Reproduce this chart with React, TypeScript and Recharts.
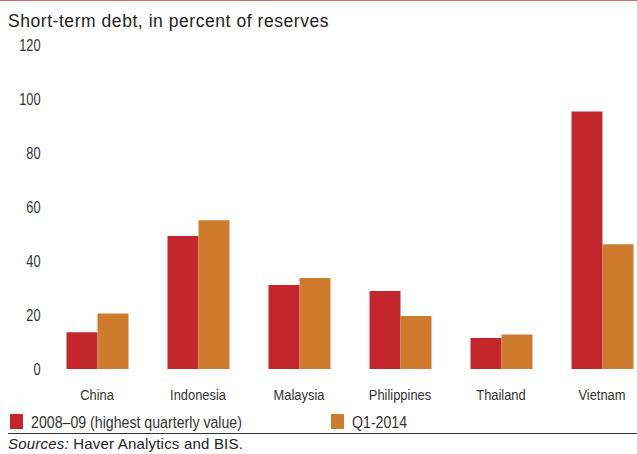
import { BarChart, Bar, XAxis, YAxis } from "recharts";

const categories = ["China", "Indonesia", "Malaysia", "Philippines", "Thailand", "Vietnam"];
const peak2008 = [13.6, 49.3, 31.1, 28.9, 11.5, 95.4];
const q12014 = [20.6, 55.1, 33.7, 19.6, 12.8, 46.2];
const yTicks = [0, 20, 40, 60, 80, 100, 120];

const seriesNames = ["2008–09 (highest quarterly value)", "Q1-2014"];
const RED = "#C4262E";
const ORANGE = "#CE7B2D";

const data = categories.map((c, i) => ({
  name: c,
  peak: peak2008[i],
  q1: q12014[i],
}));

const sans = "'Liberation Sans', Arial, sans-serif";

// condensed look: plain sans squeezed horizontally
const CondTick = (props: any) => {
  const { x, y, payload, anchor, size, sx, dy } = props;
  return (
    <g transform={`translate(${x},${y})`}>
      <text
        transform={`scale(${sx},1)`}
        textAnchor={anchor}
        dy={dy}
        fontFamily={sans}
        fontSize={size}
        fill="#333"
      >
        {payload.value}
      </text>
    </g>
  );
};

const condText = (left: number, text: string) => (
  <div
    style={{
      position: "absolute",
      left,
      top: 413.5,
      fontFamily: sans,
      fontSize: 16,
      lineHeight: "18px",
      color: "#333",
      whiteSpace: "nowrap",
      transform: "scaleX(0.885)",
      transformOrigin: "0 0",
    }}
  >
    {text}
  </div>
);

export default function App() {
  return (
    <div
      style={{
        position: "absolute",
        left: 0,
        top: 0,
        width: 637,
        height: 454,
        overflow: "hidden",
        background: "#fff",
        fontFamily: sans,
        color: "#222",
      }}
    >
      {/* top rule */}
      <div style={{ position: "absolute", left: 0, top: 0, width: 637, height: 1, background: "#E06666" }} />

      <div
        style={{
          position: "absolute",
          left: 8,
          top: 12,
          fontSize: 17.5,
          lineHeight: "18px",
          letterSpacing: 0.55,
          whiteSpace: "nowrap",
        }}
      >
        Short-term debt, in percent of reserves
      </div>

      <div style={{ position: "absolute", left: 0, top: 0 }}>
        <BarChart
          width={660}
          height={405}
          data={data}
          margin={{ top: 45, right: 7.5, left: 0, bottom: 0 }}
          barCategoryGap={20}
          barGap={0}
        >
          <XAxis
            dataKey="name"
            axisLine={false}
            tickLine={false}
            height={36}
            tickMargin={14}
            interval={0}
            tick={<CondTick anchor="middle" size={15} sx={0.86} dy="0.71em" />}
          />
          <YAxis
            domain={[0, 120]}
            ticks={yTicks}
            axisLine={false}
            tickLine={false}
            width={46.5}
            tickMargin={0}
            tick={<CondTick anchor="end" size={16} sx={0.8} dy="0.355em" />}
          />
          <Bar dataKey="peak" fill={RED} isAnimationActive={false} />
          <Bar dataKey="q1" fill={ORANGE} isAnimationActive={false} />
        </BarChart>
      </div>

      {/* legend */}
      <div style={{ position: "absolute", left: 10, top: 414, width: 13, height: 15, background: RED }} />
      {condText(31, seriesNames[0])}
      <div style={{ position: "absolute", left: 331, top: 414, width: 13, height: 15, background: ORANGE }} />
      {condText(352, seriesNames[1])}

      <div style={{ position: "absolute", left: 8, top: 433, width: 629, height: 1, background: "#333" }} />

      <div
        style={{
          position: "absolute",
          left: 8,
          top: 436,
          fontSize: 15,
          lineHeight: "16px",
          letterSpacing: 0.2,
          color: "#222",
          whiteSpace: "nowrap",
        }}
      >
        <i>Sources:</i> Haver Analytics and BIS.
      </div>
    </div>
  );
}
